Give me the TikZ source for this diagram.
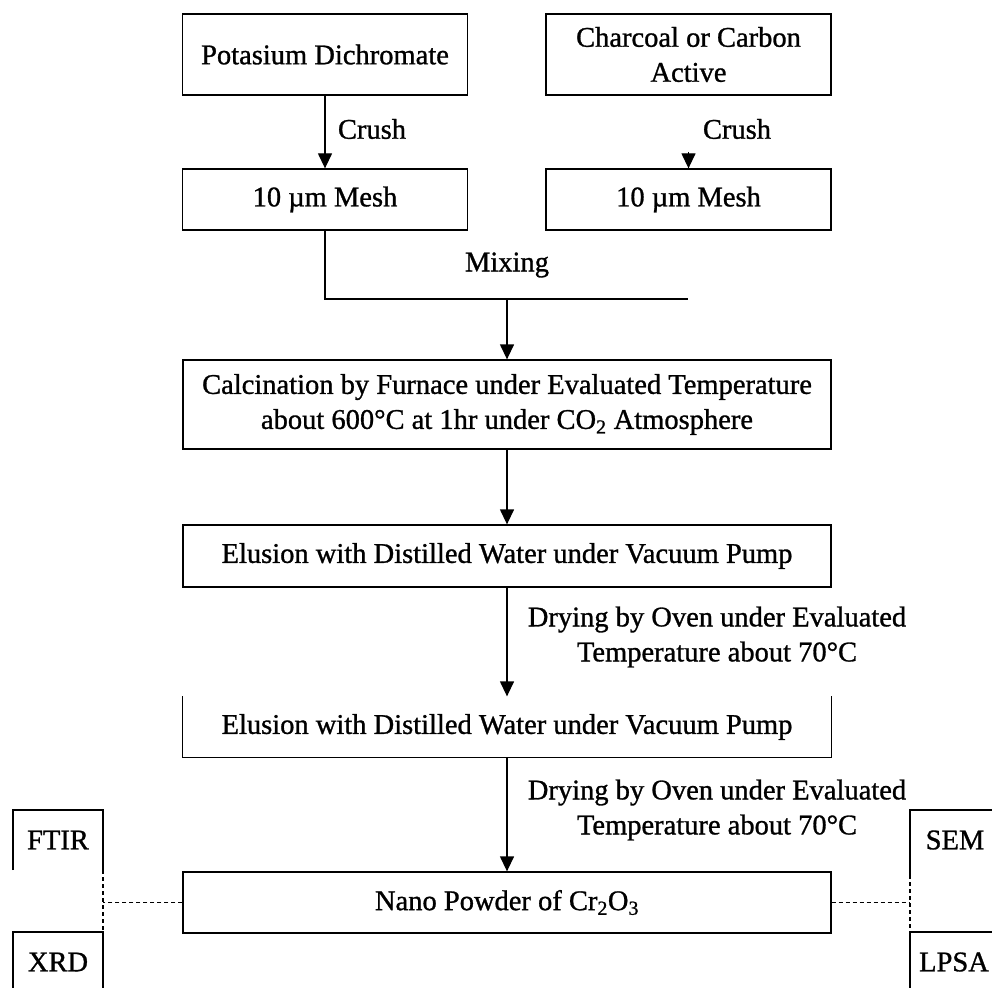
\documentclass[tikz,border=0pt]{standalone}
\usepackage{fontspec}
\setmainfont{Liberation Serif}[FakeBold=1]
\usetikzlibrary{arrows.meta}
\begin{document}
\begin{tikzpicture}[x=1pt,y=-1pt,
  every node/.style={font=\fontsize{28.5}{35}\selectfont, text=black},
  procbox/.style={draw=black, line width=1.3pt, inner sep=0pt, align=center},
  smallbox/.style={procbox, minimum width=285pt},
  widebox/.style={procbox, minimum width=648pt},
  arr/.style={line width=1.3pt, -{Triangle[length=15pt,width=14pt]}},
  conn/.style={line width=1.3pt},
  dashconn/.style={line width=1.1pt, dash pattern=on 4pt off 3pt},
  lbl/.style={inner sep=0pt, align=center}
]
\useasboundingbox (0,0) rectangle (992,987);
\fill[white] (0,0) rectangle (992,987);

% process boxes
\node[smallbox, minimum height=81pt] (pd) at (325,54.5) {Potasium Dichromate};
\node[smallbox, minimum height=81pt] (cc) at (688.5,54.5) {Charcoal or Carbon\\Active};
\node[smallbox, minimum height=61pt] (m1) at (325,199.5) {10 µm Mesh};
\node[smallbox, minimum height=61pt] (m2) at (688.5,199.5) {10 µm Mesh};
\node[widebox, minimum height=89pt] (calc) at (507,404.5) {Calcination by Furnace under Evaluated Temperature\\about 600°C at 1hr under CO\textsubscript{2} Atmosphere};
\node[widebox, minimum height=62pt] (el1) at (507,556) {Elusion with Distilled Water under Vacuum Pump};
\node[procbox, draw=none, minimum width=648pt, minimum height=60pt] (el2) at (507,727) {Elusion with Distilled Water under Vacuum Pump};
\draw[conn] (el2.north west) -- (el2.south west) -- (el2.south east) -- (el2.north east);
\node[widebox, minimum height=61pt] (nano) at (507,902.5) {Nano Powder of Cr\textsubscript{2}O\textsubscript{3}};

% labels
\node[lbl] (crush1) at (372,129) {Crush};
\node[lbl] (crush2) at (737,129) {Crush};
\node[lbl] (mix) at (507,265) {Mixing};
\node[lbl] (dry1) at (717,637) {Drying by Oven under Evaluated\\Temperature about 70°C};
\node[lbl] (dry2) at (717,810) {Drying by Oven under Evaluated\\Temperature about 70°C};

% connectors
\draw[arr] (pd) -- (m1);
\coordinate (ctop) at (688.5,152);
\draw[arr] (ctop) -- (m2.north);
\coordinate (mixL) at (325,299);
\coordinate (mixR) at (688,299);
\coordinate (mixC) at (507,299);
\draw[conn] (m1.south) -- (mixL) -- (mixR);
\draw[arr] (mixC) -- (calc.north);
\draw[arr] (calc) -- (el1);
\draw[arr] (el1) -- (el2.north);
\draw[arr] (el2) -- (nano);

% analysis boxes (left)
\draw[conn] (13,870) -- (13,810) -- (103,810) -- (103,870);
\draw[dashconn] (103,870) -- (103,930);
\draw[conn] (13,992) -- (13,932) -- (103,932) -- (103,992);
\node[lbl] (ftir) at (58,840) {FTIR};
\node[lbl] (xrd) at (58,962) {XRD};
\coordinate (lj) at (103,902.5);
\draw[dashconn] (nano.west) -- (lj);

% analysis boxes (right)
\draw[conn] (996,810) -- (910,810) -- (910,875);
\draw[dashconn] (910,875) -- (910,930);
\draw[conn] (996,932) -- (910,932) -- (910,992);
\node[lbl] (sem) at (955,840) {SEM};
\node[lbl] (lpsa) at (954,962) {LPSA};
\coordinate (rj) at (910,902.5);
\draw[dashconn] (nano.east) -- (rj);
\end{tikzpicture}
\end{document}
